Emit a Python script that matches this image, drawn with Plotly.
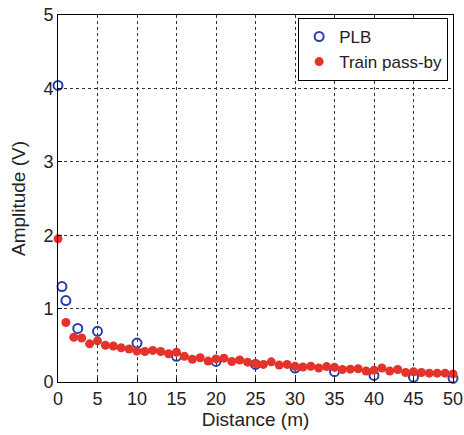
import plotly.graph_objects as go

plb_x = [0, 0.5, 1, 2.5, 5, 10, 15, 20, 25, 30, 35, 40, 45, 50]
plb_y = [4.04, 1.30, 1.11, 0.73, 0.69, 0.53, 0.35, 0.28, 0.24, 0.19, 0.14, 0.09, 0.065, 0.05]

train_x = list(range(0, 51))
train_y = [1.95, 0.81, 0.61, 0.60, 0.52, 0.56, 0.50, 0.49, 0.465, 0.45,
           0.42, 0.415, 0.43, 0.415, 0.385, 0.405, 0.35, 0.31, 0.33, 0.285,
           0.315, 0.325, 0.28, 0.30, 0.27, 0.25, 0.24, 0.275, 0.23, 0.24,
           0.215, 0.205, 0.215, 0.19, 0.21, 0.20, 0.17, 0.175, 0.18, 0.15,
           0.16, 0.19, 0.15, 0.17, 0.13, 0.14, 0.13, 0.12, 0.12, 0.12, 0.11]

x_ticks = [0, 5, 10, 15, 20, 25, 30, 35, 40, 45, 50]
y_ticks = [0, 1, 2, 3, 4, 5]

FONT = "Liberation Sans, Arial"

fig = go.Figure()
fig.add_trace(go.Scatter(x=plb_x, y=plb_y, mode="markers", name="PLB",
                         marker=dict(symbol="circle-open", size=9, color="#2a3fa8",
                                     line=dict(width=2, color="#2a3fa8")),
                         cliponaxis=False))
fig.add_trace(go.Scatter(x=train_x, y=train_y, mode="markers", name="Train pass-by",
                         marker=dict(symbol="circle", size=9, color="#e5322a"),
                         cliponaxis=False))

axis_common = dict(showline=True, linecolor="black", linewidth=1, mirror=True,
                   showgrid=True, gridcolor="#333333", griddash="dot", gridwidth=1,
                   zeroline=False, ticks="inside", ticklen=4, tickcolor="black",
                   automargin=False,
                   tickfont=dict(family=FONT, size=18, color="#222222"))

fig.update_xaxes(range=[0, 50], tickvals=x_ticks,
                 title=dict(text="Distance (m)", font=dict(family=FONT, size=19, color="#222222"), standoff=1),
                 **axis_common)
fig.update_yaxes(range=[0, 5], tickvals=y_ticks,
                 title=dict(text="Amplitude (V)", font=dict(family=FONT, size=19, color="#222222"), standoff=12),
                 **axis_common)

fig.update_layout(width=464, height=435,
                  margin=dict(l=58, r=11, t=15, b=53),
                  plot_bgcolor="white", paper_bgcolor="white",
                  showlegend=True,
                  legend=dict(x=0.608, y=0.992, xanchor="left", yanchor="top",
                              bgcolor="white", bordercolor="black", borderwidth=1,
                              font=dict(family=FONT, size=17, color="#222222"),
                              itemwidth=30, tracegroupgap=2))

fig.write_html("out.html")
